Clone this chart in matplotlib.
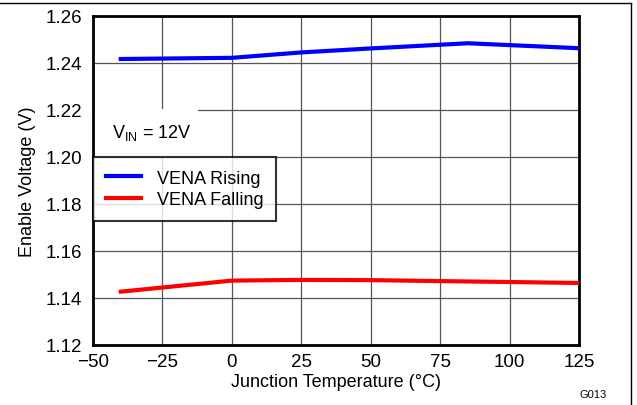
import matplotlib
matplotlib.use("Agg")
import matplotlib.pyplot as plt
from matplotlib.lines import Line2D
from matplotlib.patches import Rectangle

plt.rcParams['font.family'] = ['Liberation Sans', 'DejaVu Sans']

temps = [-40, 0, 25, 50, 85, 125]
vena_rising = [1.2417, 1.2422, 1.2445, 1.2462, 1.2484, 1.2463]
temps_fall = [-40, 0, 25, 50, 75, 100, 125]
vena_falling = [1.1427, 1.1474, 1.1477, 1.1476, 1.1472, 1.1468, 1.1464]

x_ticks = [-50, -25, 0, 25, 50, 75, 100, 125]
x_labels = ['\u221250', '\u221225', '0', '25', '50', '75', '100', '125']
y_ticks = [1.12, 1.14, 1.16, 1.18, 1.20, 1.22, 1.24, 1.26]

fig = plt.figure(figsize=(6.37, 4.06), dpi=100)
ax = fig.add_axes([93 / 637, 1 - 346 / 406, (579 - 93) / 637, (346 - 17) / 406])

ax.plot(temps, vena_rising, color='#0000ff', lw=3, label='VENA Rising', zorder=3)
ax.plot(temps_fall, vena_falling, color='#ff0000', lw=3, label='VENA Falling', zorder=3)

ax.set_xlim(-50, 125)
ax.set_ylim(1.12, 1.26)
ax.set_xticks(x_ticks)
ax.set_xticklabels(x_labels)
ax.set_yticks(y_ticks)
ax.set_yticklabels(['%.2f' % v for v in y_ticks])
ax.tick_params(length=0, labelsize=13.5, pad=6)
ax.tick_params(axis='y', pad=8)
ax.grid(True, color='#555555', lw=0.9)
ax.set_axisbelow(True)
for s in ax.spines.values():
    s.set_linewidth(2)

ax.set_xlabel('Junction Temperature (\u00b0C)', fontsize=13, labelpad=2)
ax.set_ylabel('Enable Voltage (V)', fontsize=13, labelpad=7)

# white patch behind the V_IN note
ax.add_patch(Rectangle((-50, 1.2), 37.8, 0.0205, facecolor='white', edgecolor='none', zorder=2))
ax.text(-43.2, 1.2106, r'V$_{\mathregular{IN}}$ = 12V', fontsize=13, va='center', zorder=4)

leg = ax.legend(loc='upper left', bbox_to_anchor=(0.0, 0.571), fontsize=13, frameon=True,
                fancybox=False, borderaxespad=0, handlelength=1.95, handletextpad=0.9,
                borderpad=0.7, labelspacing=0.25)
leg.get_frame().set_edgecolor('black')
leg.get_frame().set_linewidth(1.5)
leg.set_zorder(5)

fig.text(580 / 637, 1 - 395 / 406, 'G013', fontsize=8, va='center')
fig.add_artist(Line2D([0, 631 / 637], [1 - 4 / 406] * 2, color='black', lw=1))
fig.add_artist(Line2D([631 / 637] * 2, [1 - 4 / 406, 0], color='black', lw=1))

fig.savefig('out.png', dpi=100)
